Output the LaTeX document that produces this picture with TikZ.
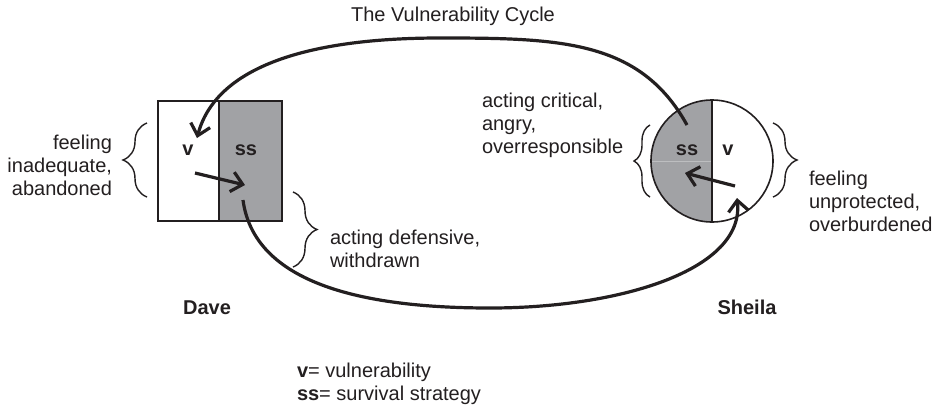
\documentclass[tikz,border=0pt]{standalone}
\usepackage{fontspec}
\setmainfont{Liberation Sans}
\usetikzlibrary{arrows.meta,decorations.pathreplacing}
\definecolor{ink}{HTML}{231F20}
\definecolor{halfgray}{HTML}{A1A2A5}
\definecolor{seamgray}{HTML}{BDBEC0}
\begin{document}
\begin{tikzpicture}[x=1pt,y=-1pt,
  lbl/.style={text=ink, font=\fontsize{20}{23}\selectfont, inner sep=0pt, outer sep=0pt},
  bold/.style={lbl, font=\fontsize{20}{23}\selectfont\bfseries},
  half/.style={draw=ink, line width=2pt, minimum height=120pt, inner sep=0pt, outer sep=0pt},
  flow/.style={draw=ink, line width=3.2pt, -{Straight Barb[length=11pt,width=20pt]}},
  curly/.style={draw=ink, line width=1.4pt, decorate, decoration={brace, amplitude=#1}},
]
\useasboundingbox (0,0) rectangle (938,408);
\fill[white] (0,0) rectangle (938,408);

\node[lbl, anchor=base] (title) at (453,21) {The Vulnerability Cycle};

% Dave's box
\node[half, fill=white, minimum width=61pt] (dv) at (188.5,161) {};
\node[half, fill=halfgray, minimum width=63pt] (dss) at (250.5,161) {};
\node[bold] (dvl) at (188,150) {v};
\node[bold] (dssl) at (246,150) {ss};

% Sheila's circle
\node[circle, inner sep=0pt, outer sep=0pt, minimum size=122pt] (sc) at (712,161) {};
\fill[halfgray] (sc.north) arc[start angle=90, end angle=270, radius=61pt] -- cycle;
\draw[seamgray, line width=0.6pt] (sc.west) -- (sc.center);
\draw[ink, line width=1.6pt] (sc.north) -- (sc.south);
\draw[ink, line width=1.6pt] (sc.center) circle[radius=61pt];
\node[bold] (sssl) at (687,150) {ss};
\node[bold] (svl) at (728,150) {v};

% inner arrows
\coordinate (da0) at (195,173); \coordinate (da1) at (245,185);
\draw[flow] (da0) -- (da1);
\coordinate (sa0) at (735,186); \coordinate (sa1) at (685,173);
\draw[flow] (sa0) -- (sa1);

% cycle arcs
\coordinate (t0) at (687,125); \coordinate (tm) at (440,38); \coordinate (t1) at (197,138);
\draw[flow] (t0) .. controls (640,40) and (560,38) .. (tm) .. controls (300,38) and (215,70) .. (t1);
\coordinate (b0) at (243,200); \coordinate (bm) at (490,308); \coordinate (b1) at (737,198);
\draw[flow] (b0) .. controls (255,290) and (380,308) .. (bm) .. controls (620,308) and (745,270) .. (b1);

% braces
\coordinate (lb0) at (147,197); \coordinate (lb1) at (147,123);
\draw[curly=24pt] (lb0) -- (lb1);
\coordinate (cl0) at (650,197); \coordinate (cl1) at (650,125);
\draw[curly=16pt] (cl0) -- (cl1);
\coordinate (cr0) at (773,123); \coordinate (cr1) at (773,197);
\draw[curly=24pt] (cr0) -- (cr1);
\coordinate (bb0) at (293,192); \coordinate (bb1) at (293,267);
\draw[curly=24pt] (bb0) -- (bb1);

% labels
\node[lbl, align=right, anchor=east] (dfeel) at (112,165) {feeling\\inadequate,\\abandoned};
\node[lbl, align=left, anchor=west] (sact) at (482,125) {acting critical,\\angry,\\overresponsible};
\node[lbl, align=left, anchor=west] (sfeel) at (809,201) {feeling\\unprotected,\\overburdened};
\node[lbl, align=left, anchor=west] (dact) at (330,249) {acting defensive,\\withdrawn};
\node[bold, anchor=base] (dave) at (207,314) {Dave};
\node[bold, anchor=base] (sheila) at (747,314) {Sheila};
\node[lbl, anchor=base west] (legv) at (297,377) {\textbf{v}= vulnerability};
\node[lbl, anchor=base west] (legss) at (297,400) {\textbf{ss}= survival strategy};
\end{tikzpicture}
\end{document}
